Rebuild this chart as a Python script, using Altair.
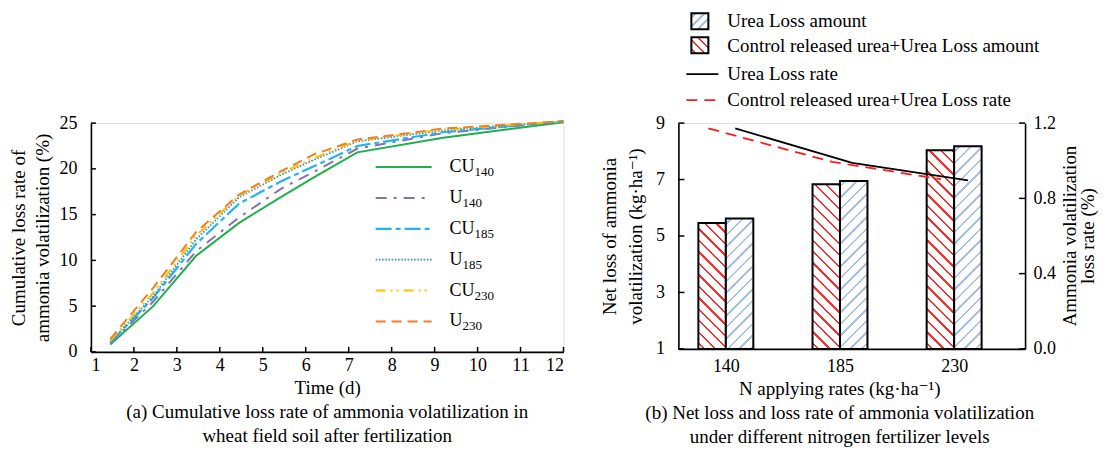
import altair as alt
import pandas as pd

FONT = '"Liberation Serif", "Times New Roman", Times, "DejaVu Serif", serif'

# ---------------- panel (a) data ----------------
days = [1.45, 2.45, 3.45, 4.45, 5.45, 6.2, 7.2, 9.2, 12.0]
series = ["CU140", "U140", "CU185", "U185", "CU230", "U230"]
series_base = ["CU", "U", "CU", "U", "CU", "U"]
series_sub = ["140", "140", "185", "185", "230", "230"]
cu140 = [0.8, 5.0, 10.5, 14.1, 17.0, 19.1, 21.8, 23.4, 25.1]
u140 = [0.9, 5.5, 11.0, 14.7, 17.9, 19.7, 22.2, 23.9, 25.2]
cu185 = [1.0, 5.9, 11.8, 16.2, 18.7, 20.3, 22.5, 24.0, 25.2]
u185 = [1.1, 6.1, 12.3, 16.9, 19.4, 21.0, 23.0, 24.2, 25.2]
cu230 = [1.2, 6.45, 12.7, 17.1, 19.6, 21.2, 23.1, 24.3, 25.2]
u230 = [1.4, 7.0, 13.1, 17.2, 19.8, 21.6, 23.2, 24.4, 25.2]
a_values = [cu140, u140, cu185, u185, cu230, u230]
a_xticks = list(range(1, 13))
a_yticks = [0, 5, 10, 15, 20, 25]

# ---------------- panel (b) data ----------------
rates = [140, 185, 230]
cru_amount = [5.46, 6.83, 8.04]     # Control released urea+Urea Loss amount
urea_amount = [5.62, 6.95, 8.18]    # Urea Loss amount
urea_rate_x = [143.7, 189.8, 235.5]
urea_rate = [1.172, 0.989, 0.895]   # Urea Loss rate
cru_rate_x = [133.1, 181.9, 224.8]
cru_rate = [1.172, 0.994, 0.902]    # Control released urea+Urea Loss rate
b_yticks = [1, 3, 5, 7, 9]
b_y2ticks = [0.0, 0.4, 0.8, 1.2]
b_y2title = ["Ammonia volatilization", "loss rate (%)"]

# ---------------- styles ----------------
colors = ["#1fb04b", "#8a6fb0", "#22b4f0", "#3d93b8", "#ffc000", "#f07f24"]
dashes = [None, [11, 7, 3, 7], [16, 4, 5, 4], [1.6, 1.6], [10, 5, 2, 4, 2, 5], [10, 6]]
widths = [2.0, 2.0, 2.2, 1.8, 2.0, 2.0]
RED = "#ff2a2a"
BLUE_H = "#a9c1e2"

WA, HA = 473, 229
WB, HB = 347, 226
XB_DOM = [121.29, 257.96]
BAR_HALF = 10.83


def axis_style(**kw):
    base = dict(labelFont=FONT, labelFontSize=18, labelColor="black",
                titleFont=FONT, titleFontSize=19, titleFontWeight="normal",
                titleColor="black", domainColor="black", domainWidth=1.6,
                tickSize=0, ticks=False, grid=False)
    base.update(kw)
    return alt.Axis(**base)


def hatch(w, h, color, direction, period=11.5, lw=2.4):
    L = w + h
    k = L / (w * w + h * h)
    if direction == "/":
        x1, y1, x2, y2 = 0, 0, k * w, k * h
    else:
        x1, y1, x2, y2 = 0, 1, k * w, 1 - k * h
    stops = [alt.GradientStop(offset=0, color="white")]
    n = int(L / period) + 1
    for i in range(n):
        c = (i + 0.5) * period / L
        a = max(0.0, c - lw / 2 / L)
        b = min(1.0, c + lw / 2 / L)
        if a >= 1:
            break
        stops += [alt.GradientStop(offset=a, color="white"),
                  alt.GradientStop(offset=a, color=color),
                  alt.GradientStop(offset=b, color=color),
                  alt.GradientStop(offset=b, color="white")]
    stops.append(alt.GradientStop(offset=1, color="white"))
    return alt.Gradient(gradient="linear", stops=stops, x1=x1, y1=y1, x2=x2, y2=y2)


# ================= panel (a) =================
recs = []
for name, vals in zip(series, a_values):
    for d, v in zip(days, vals):
        recs.append({"series": name, "day": d, "rate": v})
df_a = pd.DataFrame(recs)

xa = alt.Scale(domain=[1, 12], nice=False, zero=False)
ya = alt.Scale(domain=[0, 25], nice=False)
XA_AX = axis_style(values=a_xticks, title="Time (d)", labelPadding=5, titlePadding=4)
YA_AX = axis_style(values=a_yticks, title=["Cumulative loss rate of", "ammonia volatilization (%)"],
                   labelPadding=14, titlePadding=6, titleLineHeight=24)

a_layers = []
for i, name in enumerate(series):
    kw = dict(color=colors[i], strokeWidth=widths[i])
    if dashes[i] is not None:
        kw["strokeDash"] = dashes[i]
    a_layers.append(
        alt.Chart(df_a).transform_filter(alt.datum.series == name)
        .mark_line(**kw)
        .encode(x=alt.X("day:Q", scale=xa, axis=XA_AX),
                y=alt.Y("rate:Q", scale=ya, axis=YA_AX))
    )

# inward ticks
a_layers.append(
    alt.Chart(pd.DataFrame({"rate": a_yticks})).mark_rule(color="black", strokeWidth=1.5)
    .encode(y=alt.Y("rate:Q", scale=ya, axis=YA_AX), x=alt.value(0), x2=alt.value(5))
)
a_layers.append(
    alt.Chart(pd.DataFrame({"day": a_xticks})).mark_rule(color="black", strokeWidth=1.5)
    .encode(x=alt.X("day:Q", scale=xa, axis=XA_AX), y=alt.value(HA - 5), y2=alt.value(HA))
)

# legend (a)
glyph_w = {"C": 0.667, "U": 0.722}
leg_df = pd.DataFrame({"base": series_base, "sub": series_sub})
for i in range(len(series)):
    yy = 44 + i * 30.9
    kw = dict(color=colors[i], strokeWidth=widths[i])
    if dashes[i] is not None:
        kw["strokeDash"] = dashes[i]
    row = leg_df.iloc[[i]]
    a_layers.append(alt.Chart(row).mark_rule(**kw)
                    .encode(x=alt.value(285), x2=alt.value(341), y=alt.value(yy)))
    a_layers.append(alt.Chart(row).mark_text(align="left", baseline="middle", font=FONT,
                                             fontSize=18, color="black")
                    .encode(x=alt.value(359), y=alt.value(yy), text="base:N"))
    bw = sum(glyph_w[c] for c in series_base[i]) * 18
    a_layers.append(alt.Chart(row).mark_text(align="left", baseline="middle", font=FONT,
                                             fontSize=13, color="black")
                    .encode(x=alt.value(359 + bw), y=alt.value(yy + 5), text="sub:N"))

chart_a = alt.layer(*a_layers).properties(
    width=WA, height=HA,
    title=alt.TitleParams(
        text=["(a) Cumulative loss rate of ammonia volatilization in",
              "wheat field soil after fertilization"],
        orient="bottom", anchor="middle", font=FONT, fontSize=19, fontWeight="normal",
        color="black", lineHeight=24, offset=5),
)

# ================= panel (b) =================
xb = alt.Scale(domain=XB_DOM, nice=False, zero=False)
yb = alt.Scale(domain=[1, 9], nice=False, zero=False)
yb2 = alt.Scale(domain=[0, 1.2], nice=False, zero=False)
px_per_unit = WB / (XB_DOM[1] - XB_DOM[0])

XB_AX = axis_style(values=rates, title="N applying rates (kg·ha⁻¹)",
                   labelPadding=9, titlePadding=4, titleX=161)
YB_AX = axis_style(values=b_yticks, orient="left",
                   title=["Net loss of ammonia", "volatilization (kg·ha⁻¹)"],
                   labelPadding=14, titlePadding=10, titleLineHeight=26)
YB2_AX = axis_style(values=b_y2ticks, orient="right", format=".1f", title=None,
                    labelPadding=8)

bar_recs = []
for r, v in zip(rates, cru_amount):
    bar_recs.append({"rate": r, "kind": "cru", "value": v, "x0": r - BAR_HALF, "x1": r})
for r, v in zip(rates, urea_amount):
    bar_recs.append({"rate": r, "kind": "urea", "value": v, "x0": r, "x1": r + BAR_HALF})
df_b = pd.DataFrame(bar_recs)

bar_layers = []
for j, rec in enumerate(bar_recs):
    w = BAR_HALF * px_per_unit
    h = (rec["value"] - 1) / 8 * HB
    if rec["kind"] == "cru":
        fill = hatch(w, h, RED, "\\")
    else:
        fill = hatch(w, h, BLUE_H, "/")
    bar_layers.append(
        alt.Chart(df_b.iloc[[j]]).mark_bar(fill=fill, stroke="black", strokeWidth=2)
        .encode(x=alt.X("x0:Q", scale=xb, axis=XB_AX), x2="x1:Q",
                y=alt.Y("value:Q", scale=yb, axis=YB_AX), y2=alt.datum(1))
    )
bar_layers.append(
    alt.Chart(pd.DataFrame({"value": b_yticks})).mark_rule(color="black", strokeWidth=1.5)
    .encode(y=alt.Y("value:Q", scale=yb, axis=YB_AX), x=alt.value(0), x2=alt.value(6))
)

line_df = pd.DataFrame(
    [{"s": "urea", "x0": x, "r": v} for x, v in zip(urea_rate_x, urea_rate)] +
    [{"s": "cru", "x0": x, "r": v} for x, v in zip(cru_rate_x, cru_rate)]
)
line_layers = [
    alt.Chart(line_df).transform_filter(alt.datum.s == "urea")
    .mark_line(color="black", strokeWidth=1.8)
    .encode(x=alt.X("x0:Q", scale=xb, axis=XB_AX),
            y=alt.Y("r:Q", scale=yb2, axis=YB2_AX)),
    alt.Chart(line_df).transform_filter(alt.datum.s == "cru")
    .mark_line(color="#ff1a1a", strokeWidth=1.8, strokeDash=[11, 7])
    .encode(x=alt.X("x0:Q", scale=xb, axis=XB_AX), y=alt.Y("r:Q", scale=yb2, axis=YB2_AX)),
    alt.Chart(pd.DataFrame({"r": b_y2ticks})).mark_rule(color="black", strokeWidth=1.5)
    .encode(y=alt.Y("r:Q", scale=yb2, axis=YB2_AX), x=alt.value(WB - 6), x2=alt.value(WB)),
]

# right axis title (manual, rotated)
rt_df = pd.DataFrame({"t": b_y2title})
rt_layers = [
    alt.Chart(rt_df.iloc[[0]]).mark_text(angle=270, align="center", baseline="middle",
                                         font=FONT, fontSize=19, color="black")
    .encode(x=alt.value(WB + 45), y=alt.value(HB / 2), text="t:N"),
    alt.Chart(rt_df.iloc[[1]]).mark_text(angle=270, align="center", baseline="middle",
                                         font=FONT, fontSize=19, color="black")
    .encode(x=alt.value(WB + 63), y=alt.value(HB / 2), text="t:N"),
]

# legend (b)
leg_labels = ["Urea Loss amount", "Control released urea+Urea Loss amount",
              "Urea Loss rate", "Control released urea+Urea Loss rate"]
leg_b_df = pd.DataFrame({"label": leg_labels})
leg_layers = []
sq = [(-110, -94, BLUE_H, "/"), (-86, -70, RED, "\\")]
for k, (y0, y1, col, d) in enumerate(sq):
    leg_layers.append(
        alt.Chart(leg_b_df.iloc[[k]]).mark_rect(fill=hatch(17, 16, col, d, period=9, lw=2.2),
                                                stroke="black", strokeWidth=2)
        .encode(x=alt.value(13), x2=alt.value(30), y=alt.value(y0), y2=alt.value(y1))
    )
leg_layers.append(alt.Chart(leg_b_df.iloc[[2]]).mark_rule(color="black", strokeWidth=1.8)
                  .encode(x=alt.value(8), x2=alt.value(40), y=alt.value(-49)))
leg_layers.append(alt.Chart(leg_b_df.iloc[[3]]).mark_rule(color="#ff1a1a", strokeWidth=1.8,
                                                          strokeDash=[11, 7])
                  .encode(x=alt.value(8), x2=alt.value(40), y=alt.value(-23)))
for k, yy in enumerate([-102, -77, -49, -23]):
    leg_layers.append(alt.Chart(leg_b_df.iloc[[k]])
                      .mark_text(align="left", baseline="middle", font=FONT, fontSize=19,
                                 color="black")
                      .encode(x=alt.value(49), y=alt.value(yy), text="label:N"))

bars = alt.layer(*bar_layers)
lines = alt.layer(*line_layers)
chart_b = alt.layer(bars, lines, *rt_layers, *leg_layers).resolve_scale(y="independent").properties(
    width=WB, height=HB,
    title=alt.TitleParams(
        text=["(b) Net loss and loss rate of ammonia volatilization",
              "under different nitrogen fertilizer levels"],
        orient="bottom", anchor="middle", font=FONT, fontSize=19, fontWeight="normal",
        color="black", lineHeight=24, offset=5, dx=-12),
)

chart = alt.hconcat(chart_a, chart_b, spacing=31).properties(
    padding={"left": 1, "top": 3, "right": 0, "bottom": 0}
).configure_view(stroke=None).configure(background="white")

chart.save("out.html", embed_options={"renderer": "svg", "actions": False})
